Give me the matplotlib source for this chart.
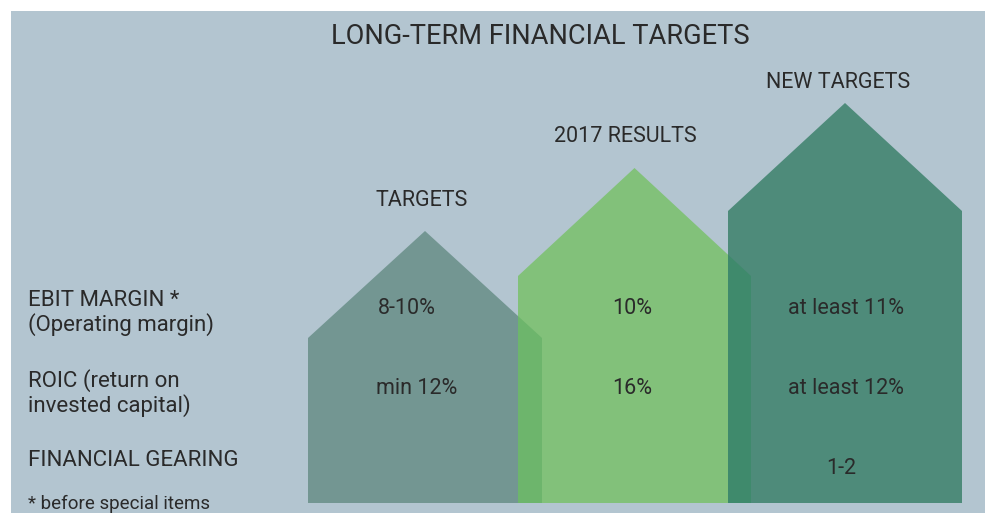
import matplotlib
matplotlib.use("Agg")
import matplotlib.pyplot as plt
from matplotlib.patches import Polygon, Rectangle

# ---- data ----
columns = ["TARGETS", "2017 RESULTS", "NEW TARGETS"]
row_labels = ["EBIT MARGIN *\n(Operating margin)", "ROIC (return on\ninvested capital)", "FINANCIAL GEARING"]
ebit_margin = ["8-10%", "10%", "at least 11%"]
roic = ["min 12%", "16%", "at least 12%"]
gearing = ["", "", "1-2"]
footnote = "* before special items"
title = "LONG-TERM FINANCIAL TARGETS"

# house geometry (pixel space of the infographic)
house_left = [308, 518, 728]
house_right = [542, 751, 962]
house_shoulder = [338, 276, 211]
house_peak = [231, 168, 103]
house_bottom = 503
house_colors = ["#739692", "#82c17a", "#4e8b7a"]
overlap_colors = ["#6db56c", "#3f8a6c"]
bg_color = "#b3c5d0"
text_color = "#2a2a2a"

W, H = 986, 513
fig = plt.figure(figsize=(W / 100, H / 100), dpi=100)
ax = fig.add_axes([0, 0, 1, 1])
ax.set_xlim(0, W)
ax.set_ylim(H, 0)
ax.axis("off")

ax.add_patch(Rectangle((11, 11), 985 - 11, H - 11, color=bg_color, lw=0))

def house(i):
    l, r, s, p = house_left[i], house_right[i], house_shoulder[i], house_peak[i]
    return [(l, house_bottom), (l, s), ((l + r) / 2, p), (r, s), (r, house_bottom)]

for i in range(3):
    ax.add_patch(Polygon(house(i), closed=True, color=house_colors[i], lw=0))

# overlaps
for i in range(2):
    l, r, s, p = house_left[i], house_right[i], house_shoulder[i], house_peak[i]
    mid = (l + r) / 2
    nl = house_left[i + 1]
    y_at = p + (nl - mid) * (s - p) / (r - mid)
    pts = [(nl, house_bottom), (nl, y_at), (r, s), (r, house_bottom)]
    ax.add_patch(Polygon(pts, closed=True, color=overlap_colors[i], lw=0))

font = dict(family=["Roboto", "DejaVu Sans"], weight="normal", color=text_color)

ax.text(540, 36, title, ha="center", va="center", fontsize=19.6, **font)

header_y = [201, 136, 82]
col_x = [422, 625, 838]
for i, c in enumerate(columns):
    ax.text(col_x[i], header_y[i], c, ha="center", va="center", fontsize=15.5, **font)

row_y = [313, 393, 460]
for i, lab in enumerate(row_labels):
    ax.text(28, row_y[i], lab, ha="left", va="center", fontsize=16, linespacing=1.15, **font)

val_x = [407, 632, 846]
for i in range(3):
    ax.text(val_x[i], 309, ebit_margin[i], ha="center", va="center", fontsize=15.5, **font)
    ax.text(val_x[i] + (10 if i == 0 else 0), 389, roic[i], ha="center", va="center", fontsize=15.5, **font)
    if gearing[i]:
        ax.text(val_x[i] - 5, 469, gearing[i], ha="center", va="center", fontsize=15.5, **font)

ax.text(28, 504, footnote, ha="left", va="center", fontsize=13.5, **font)

fig.savefig("out.png", dpi=100)
